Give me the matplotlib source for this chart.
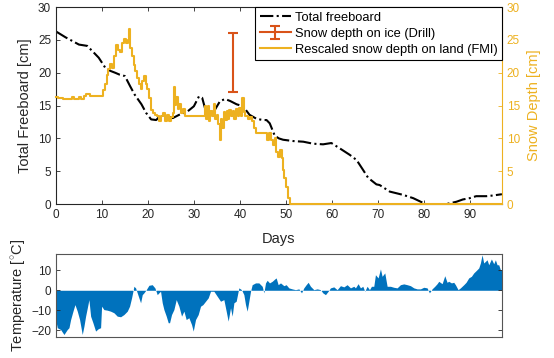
import numpy as np
import matplotlib.pyplot as plt

plt.rcParams['font.family'] = ['Liberation Sans', 'DejaVu Sans']
plt.rcParams['mathtext.fontset'] = 'custom'
plt.rcParams['mathtext.rm'] = 'Liberation Sans'

# total freeboard (cm) vs days
fb_day = [0, 2.1, 5, 6.8, 8.2, 9.3, 10.7, 11.8, 12.9, 13.9, 15, 16.1, 17.1, 18.6, 19.6,
          20.7, 21.8, 22.9, 24.3, 25.4, 26.8, 28.6, 30, 31.1, 31.8, 32.5, 33.6, 34.6,
          35.7, 36.8, 37.9, 39.3, 40.7, 42.1, 43.6, 45, 45.8, 46.5, 47.6, 48.5, 49.4,
          51.6, 53.8, 55.9, 58.1, 59.9, 61.7, 63.9, 65.4, 66.8, 67.9, 69.7, 70.4, 72.6,
          75.5, 77.7, 79.8, 80.5, 84.9, 87.1, 88.5, 90, 91.4, 93.6, 95, 97]
fb_val = [26.3, 25.4, 24.3, 24.1, 23.1, 22.3, 20.8, 20.3, 20.0, 19.7, 19.5, 18.0, 16.7,
          15.2, 13.9, 12.9, 12.8, 13.6, 13.4, 13.1, 13.6, 14.1, 14.9, 16.4, 16.2, 14.4,
          13.6, 14.4, 15.7, 16.0, 15.7, 15.2, 14.9, 13.6, 13.0, 12.8, 12.8, 12.3, 10.4,
          10.0, 9.8, 9.6, 9.5, 9.2, 9.1, 9.3, 8.5, 7.5, 6.7, 5.2, 4.0, 3.0, 2.9, 1.9,
          1.4, 0.9, 0.2, 0, 0, 0.35, 0.7, 0.9, 1.2, 1.2, 1.3, 1.5]

# rescaled snow depth on land (FMI), cm
snow_day = [0, 0.5, 1.5, 3, 3.5, 4, 5, 5.5, 6, 6.5, 7.5, 8.5, 9.8, 10.2, 10.6, 11, 11.4,
            11.8, 12.2, 12.6, 13, 13.5, 14, 14.4, 14.8, 15.3, 15.7, 15.9, 16.2, 16.5,
            16.9, 17.3, 17.7, 18.1, 18.4, 18.7, 19.1, 19.5, 19.9, 20.3, 20.6, 21, 21.5,
            22, 22.4, 22.9, 23.3, 23.7, 24.2, 24.6, 25, 25.4, 25.7, 25.9, 26.2, 26.5,
            26.8, 27.2, 27.6, 28, 32.4, 32.7, 33.0, 33.3, 33.6, 33.9, 34.3, 34.6, 35,
            35.3, 35.6, 35.9, 36.2, 36.5, 36.8, 37.1, 37.4, 37.7, 38, 38.4, 38.7, 39.1,
            39.5, 39.9, 40.2, 40.5, 40.8, 41.2, 41.7, 42.2, 42.6, 43.0, 43.6, 45.5, 46.0,
            46.4, 46.7, 47.2, 47.6, 47.9, 48.4, 48.8, 49.1, 49.4, 49.7, 50, 50.5, 50.9, 97]
snow_val = [16.3, 16.1, 16.0, 16.0, 16.3, 16.0, 16.3, 16.0, 16.4, 16.7, 16.5, 16.4, 16.5,
            17.4, 18.3, 19.6, 20.6, 21.3, 20.7, 22.5, 24.3, 23.5, 23.1, 24.5, 25.1, 24.6,
            25.0, 26.7, 23.8, 22.6, 21.2, 20.3, 19.2, 18.3, 17.6, 18.8, 19.5, 18.3, 17.6,
            16.1, 14.4, 13.9, 13.6, 13.4, 12.6, 13.4, 13.9, 12.7, 13.5, 12.6, 13.2, 13.9,
            17.9, 15.1, 16.3, 14.5, 15.2, 13.9, 14.5, 13.4, 14.9, 13.0, 15.0, 12.6, 14.2,
            13.4, 15.3, 12.9, 13.6, 12.2, 9.8, 13.0, 11.6, 14.0, 12.8, 14.2, 13.0, 14.4,
            13.4, 14.2, 13.0, 14.5, 13.4, 14.6, 13.4, 16.1, 14.0, 13.4, 12.9, 13.3, 12.6,
            11.6, 10.8, 10.8, 9.8, 10.8, 9.7, 9.0, 10.0, 8.0, 7.2, 8.3, 7.0, 5.2, 3.9, 2.6,
            0.9, 0, 0]

# drill snow depth on ice
drill_day = [38.6]
drill_mean = [21.5]
drill_err = [4.5]

# air temperature (deg C)
t_day = [0.07, 0.29, 1.01, 1.74, 2.46, 2.83, 3.19, 3.7, 4.13, 4.64, 5.14, 5.72, 6.09, 6.45,
         6.96, 7.17, 7.54, 8.04, 8.62, 9.2, 9.71, 9.93, 10.43, 11.16, 11.88, 12.61, 13.33,
         14.06, 14.78, 15.51, 16.01, 16.45, 16.96, 17.32, 17.68, 18.04, 18.41, 18.77,
         19.13, 19.64, 20.22, 20.94, 21.52, 22.03, 22.39, 22.75, 23.12, 23.48, 23.99,
         24.42, 24.71, 25.14, 25.65, 26.16, 26.74, 27.32, 27.83, 28.33, 28.91, 29.49,
         29.86, 30.36, 30.94, 31.45, 31.96, 32.54, 33.12, 33.62, 34.35, 35.07, 35.8,
         36.52, 37.03, 37.46, 37.97, 38.33, 38.7, 39.2, 39.78, 40.36, 40.87, 41.23, 41.59,
         41.96, 42.32, 42.68, 43.41, 44.13, 44.86, 45.22, 45.58, 45.94, 46.45, 47.03,
         47.61, 47.9, 48.33, 48.84, 49.57, 50.07, 50.65, 51.38, 52.1, 52.83, 53.41, 53.91,
         54.42, 54.86, 55.36, 56.09, 56.81, 57.54, 58.04, 58.62, 59.2, 59.71, 60.43,
         61.16, 61.88, 62.61, 63.33, 64.06, 64.78, 65.14, 65.72, 66.23, 66.74, 67.17,
         67.68, 68.19, 68.62, 69.13, 69.49, 70.07, 70.58, 70.94, 71.52, 72.03, 72.75,
         73.48, 74.2, 74.93, 75.65, 76.38, 77.1, 77.83, 78.55, 79.28, 80, 80.72, 81.23,
         81.81, 82.39, 82.9, 83.26, 83.99, 84.57, 85.07, 85.43, 86.01, 86.52, 86.88,
         87.46, 87.97, 88.7, 89.2, 89.78, 90.36, 90.87, 91.45, 91.96, 92.32, 92.68,
         93.04, 93.41, 93.77, 94.13, 94.71, 95.22, 95.58, 95.94, 96.3, 96.67, 97.03]
t_val = [-16.3, -18.8, -19.7, -22.2, -19.7, -18.8, -14.7, -10.5, -7.2, -10.5, -14.7, -22.2,
         -18, -13, -7.2, -4.7, -13, -16.3, -20.5, -19.3, -18.8, -8, -9.7, -10, -10.5,
         -11.3, -13, -13.3, -12.2, -10.5, -8, -3.8, 2, 1.2, -1.3, -3.8, -6.3, -2.2, -1.3,
         0.3, 2.5, 2.8, 1.2, -2.2, -1.3, -0.5, -6.3, -9.7, -13, -16.3, -16.3, -12.2, -9.7,
         -4.7, -8, -13, -10.5, -14.7, -13.8, -17.2, -20.5, -14.7, -12.2, -8, -7.2, -5.5,
         -3.8, -0.5, -0.5, -3, -5.5, -4.7, -10.5, -15.5, -8.8, -13, -6.3, -5.5, 1.2, 0.3,
         -2.2, -7.2, -10.5, -5.5, -0.5, 2.8, 3.7, 3.7, 2, -1.3, 3.7, 5, 3.7, 4.5, 5.7, 6.2,
         2.8, 3.7, 2.3, 2.8, 1.2, 0.7, 0.3, 0.7, -1.3, 1.2, 2.8, 4, 2, 0.3, 0.7, 0.3, -1.3,
         -2.2, -0.5, 1.2, 1.7, 0.3, 2.3, 1.7, 2.8, 1.2, 2, 1.2, 3.3, 1.2, 2, -0.5, 2, 0.3,
         2, 2, 7.8, 6.2, 10.7, 7, 8.7, 2, 2, 1.5, 1.2, 2.8, 3.2, 2.8, 2.3, 1.2, 0.7, 0.7,
         1.5, 1.2, -1.3, 0.7, 2, 3.3, 4.5, 3.3, 7.3, 4, 4.5, 3.7, 4, 2.8, 0.3, 1.2, 2.8, 4,
         6.2, 7, 8.7, 10, 11.2, 13.7, 17.8, 13.7, 14.5, 15.3, 12.8, 15.7, 13.3, 15.3, 12.8,
         12.8, 10.3, 10.3]

blue = '#0072BD'
red = '#D95319'
yellow = '#EDB120'
dark = '#262626'

fig = plt.figure(figsize=(5.54, 3.58), dpi=100)
ax = fig.add_axes([0.101, 0.430, 0.805, 0.550])
ax2 = ax.twinx()
axt = fig.add_axes([0.101, 0.059, 0.805, 0.232])

l1, = ax.plot(fb_day, fb_val, color='k', ls='-.', lw=1.5, label='Total freeboard')
eb = ax.errorbar(drill_day, drill_mean, yerr=drill_err, color=red, lw=1.5, capsize=3.5,
                 capthick=1.5, ls='-', label='Snow depth on ice (Drill)')
l3, = ax2.plot(snow_day, snow_val, color=yellow, lw=1.5, drawstyle='steps-post',
               clip_on=False, label='Rescaled snow depth on land (FMI)')

ax.set_xlim(0, 97)
ax.set_ylim(0, 30)
ax.set_xticks(np.arange(0, 100, 10))
ax.set_yticks(np.arange(0, 31, 5))
ax.set_xlabel('Days', fontsize=10.5, color=dark, labelpad=8)
ax.set_ylabel('Total Freeboard [cm]', fontsize=10.5, color=dark, labelpad=4)
ax.tick_params(direction='in', labelsize=8.5, colors=dark, top=True, length=3, width=0.6)
for s in ['left', 'bottom', 'top']:
    ax.spines[s].set_color(dark)
    ax.spines[s].set_linewidth(0.8)
ax.spines['right'].set_visible(False)

ax2.set_ylim(0, 30)
ax2.set_yticks(np.arange(0, 31, 5))
ax2.set_ylabel('Snow Depth [cm]', fontsize=10.5, color=yellow, labelpad=5)
ax2.tick_params(direction='in', labelsize=8.5, colors=yellow, length=3, width=0.6)
for s in ['left', 'bottom', 'top']:
    ax2.spines[s].set_visible(False)
ax2.spines['right'].set_color(yellow)
ax2.spines['right'].set_linewidth(0.8)

leg = ax2.legend([l1, eb, l3], [l1.get_label(), 'Snow depth on ice (Drill)', l3.get_label()],
                 loc='upper right', bbox_to_anchor=(1, 1), borderaxespad=0, fontsize=9.3,
                 fancybox=False, framealpha=1, edgecolor='k', handlelength=2.4,
                 handletextpad=0.3, labelspacing=0.3, borderpad=0.35)
leg.get_frame().set_linewidth(0.8)

axt.fill_between(t_day, t_val, 0, color=blue, lw=0)
axt.set_xlim(0, 97)
axt.set_ylim(-23.4, 18.3)
axt.set_xticks([])
axt.set_yticks([-20, -10, 0, 10])
axt.set_ylabel(r'Temperature [$^{\circ}$C]', fontsize=10.5, color=dark, labelpad=2)
axt.tick_params(direction='in', labelsize=8.5, colors=dark, right=True, length=3, width=0.6)
for s in axt.spines.values():
    s.set_color('#555555')
    s.set_linewidth(0.8)

fig.savefig('out.png', dpi=100)
